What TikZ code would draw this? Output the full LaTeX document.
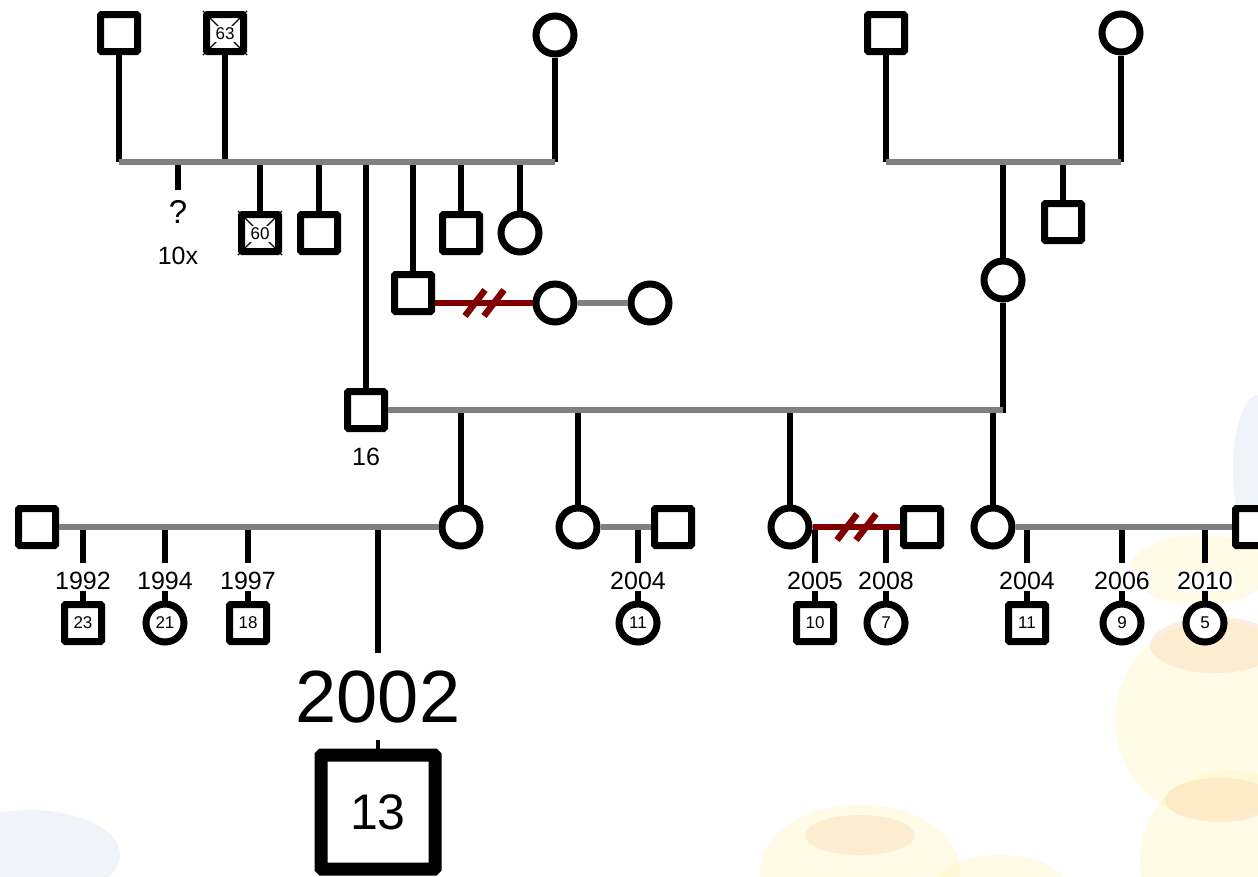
\documentclass[tikz,border=0pt]{standalone}
\usepackage{fontspec}
\setmainfont{Liberation Sans}
\definecolor{bargray}{HTML}{808080}
\definecolor{divred}{HTML}{800000}
\definecolor{bgyel}{HTML}{FFF4B8}
\definecolor{bgorg}{HTML}{F6D2A8}
\definecolor{bgblue}{HTML}{D3DFF2}
\tikzset{
  male/.style={draw=black, fill=white, line width=7pt, rectangle, rounded corners=1pt, minimum size=37pt, inner sep=0pt},
  female/.style={draw=black, fill=white, line width=7pt, circle, minimum size=38pt, inner sep=0pt},
  kid/.style={font=\fontsize{17}{17}\selectfont},
  link/.style={draw=black, line width=6.5pt},
  bar/.style={draw=bargray, line width=6.5pt},
  divorce/.style={draw=divred, line width=6pt},
  slash/.style={draw=divred, line width=6.5pt},
  year/.style={fill=white, inner sep=1pt, font=\fontsize{25}{25}\selectfont},
  lbl/.style={inner sep=1pt, font=\fontsize{25}{25}\selectfont},
}
\begin{document}
\begin{tikzpicture}[x=1pt, y=-1pt]
\useasboundingbox (0,0) rectangle (1258,876);
% faint background picture
\begin{scope}[opacity=0.35]
  \fill[bgyel] (1215,720) circle (100);
  \fill[bgorg] (1215,645) ellipse (65 and 28);
  \fill[bgyel] (1230,860) circle (90);
  \fill[bgorg] (1220,800) ellipse (55 and 22);
  \fill[bgyel] (860,870) ellipse (100 and 65);
  \fill[bgorg] (860,835) ellipse (55 and 20);
  \fill[bgyel] (1000,885) ellipse (65 and 30);
  \fill[bgyel] (1200,570) ellipse (70 and 35);
  \fill[bgblue] (1258,470) ellipse (25 and 75);
  \fill[bgblue] (30,855) ellipse (90 and 45);
\end{scope}

% ---- generation I/II left
\node[male] (A) at (119,33) {};
\node[male] (B) at (225,33) {};
\draw[line width=1.2pt] (B.north west) -- (B.south east) (B.north east) -- (B.south west);
\node[fill=white, inner sep=1.5pt, kid] (B63) at (225,34) {63};
\node[female] (C) at (555,35) {};
\coordinate (ba) at (119,162);
\coordinate (bb) at (225,162);
\coordinate (bc) at (555,162);
\draw[link] (A.south) -- (ba);
\draw[link] (B.south) -- (bb);
\draw[link] (C.south) -- (bc);
\draw[bar] (ba) -- (bc);

\coordinate (q0) at (178,165);
\coordinate (q1) at (178,190);
\draw[link] (q0) -- (q1);
\node[inner sep=1pt, font=\fontsize{33}{33}\selectfont] (qm) at (178,212) {?};
\node[lbl] (tenx) at (178,256) {10x};

\node[male] (D) at (260,233) {};
\draw[line width=1.2pt] (D.north west) -- (D.south east) (D.north east) -- (D.south west);
\node[fill=white, inner sep=1.5pt, kid] (D60) at (260,234) {60};
\node[male] (E) at (319,233) {};
\node[male] (F) at (366,410) {};
\node[male] (G) at (413,293) {};
\node[male] (H) at (461,233) {};
\node[female] (I) at (520,233) {};
\draw[link] (260,165) -- (D.north);
\draw[link] (319,165) -- (E.north);
\draw[link] (366,165) -- (F.north);
\draw[link] (413,165) -- (G.north);
\draw[link] (461,165) -- (H.north);
\draw[link] (520,165) -- (I.north);
\node[lbl] (F16) at (366,457) {16};

\node[female] (J) at (555,303) {};
\node[female] (K) at (650,303) {};
\draw[divorce] (G.east |- J.west) -- (J.west);
\draw[slash] (465,316) -- (485,290);
\draw[slash] (484,316) -- (504,290);
\draw[bar] (J.east) -- (K.west);

% ---- right family
\node[male] (L) at (886,33) {};
\node[female] (M) at (1121,33) {};
\coordinate (bl) at (886,162);
\coordinate (bm) at (1121,162);
\draw[link] (L.south) -- (bl);
\draw[link] (M.south) -- (bm);
\draw[bar] (bl) -- (bm);
\node[female] (N) at (1003,280) {};
\node[male] (O) at (1063,222) {};
\draw[link] (1003,165) -- (N.north);
\draw[link] (1063,165) -- (O.north);
\coordinate (bn) at (1003,410);
\draw[link] (N.south) -- ([yshift=-3pt]bn);
\draw[bar] (F.east) -- (bn);

% ---- generation III
\node[female] (P) at (461,527) {};
\node[female] (Q) at (578,527) {};
\node[female] (R) at (790,527) {};
\node[female] (S) at (993,527) {};
\draw[link] (461,413) -- (P.north);
\draw[link] (578,413) -- (Q.north);
\draw[link] (790,413) -- (R.north);
\draw[link] (993,413) -- (S.north);

\node[male] (T) at (37,527) {};
\node[male] (U) at (673,527) {};
\node[male] (V) at (922,527) {};
\node[male] (W) at (1254,527) {};
\draw[bar] (T.east) -- (P.west);
\draw[bar] (Q.east) -- (U.west);
\draw[divorce] (R.east) -- (V.west);
\draw[slash] (837,540) -- (857,514);
\draw[slash] (856,540) -- (876,514);
\draw[bar] (S.east) -- (W.west);

% children generation IV
\foreach \x/\yr/\sh/\age/\nm in {83/1992/male/23/c1, 165/1994/female/21/c2, 248/1997/male/18/c3,
  638/2004/female/11/c4, 815/2005/male/10/c5, 886/2008/female/7/c6,
  1027/2004/male/11/c7, 1122/2006/female/9/c8, 1205/2010/female/5/c9}{
  \draw[link] (\x,530) -- (\x,563);
  \node[year] (y\nm) at (\x,581) {\yr};
  \node[\sh, kid] (\nm) at (\x,623) {\age};
  \draw[link] (y\nm.south) -- (\nm.north);
}

% index person
\coordinate (x0) at (378,530);
\node[inner sep=0pt, font=\fontsize{74}{74}\selectfont] (yr2002) at (378,697) {2002};
\draw[link] (x0) -- (378,653);
\node[draw=black, fill=white, line width=13pt, rectangle, rounded corners=1pt, minimum size=114pt, inner sep=0pt, font=\fontsize{50}{50}\selectfont] (X) at (378,812) {13};
\draw[line width=4pt] (378,740) -- (X.north);
\end{tikzpicture}
\end{document}
